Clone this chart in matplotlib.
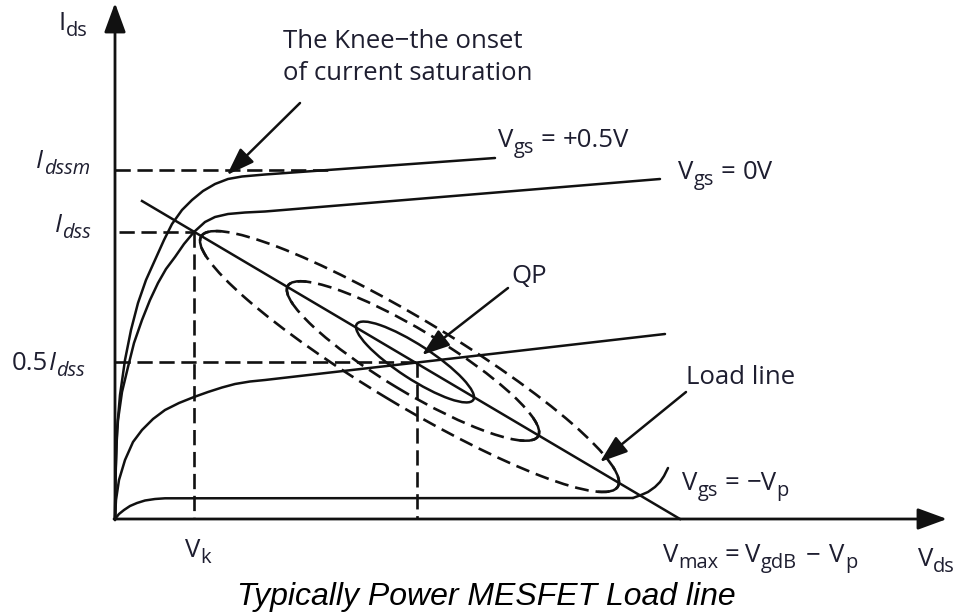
import numpy as np
import matplotlib
matplotlib.use("Agg")
import matplotlib.pyplot as plt
from matplotlib.patches import Ellipse, Arc

plt.rcParams['lines.scale_dashes'] = False
plt.rcParams['font.family'] = ['Open Sans', 'DejaVu Sans']

# ---------------- data (schematic units: Vds, Ids) ----------------
vgs_p05_v = [0, 0.5, 2, 5, 10, 16, 23, 31, 40, 49, 57, 67, 77, 88, 100, 113, 127, 150, 380]
vgs_p05_i = [0, 44, 89, 124, 159, 189, 216, 239, 259, 279, 295, 309, 319, 328, 335, 340, 342.5, 344.5, 361]

vgs_0_v = [0, 0.5, 1.5, 3, 7, 13, 19, 27, 35, 43, 51, 60, 69, 79, 90, 100, 113, 130, 150, 545]
vgs_0_i = [0, 39, 74, 99, 127, 152, 176, 199, 219, 236, 250, 262, 275, 287, 297, 302, 305, 306.5, 307.5, 340]

vgs_half_v = [0, 1, 4, 10, 18, 27, 38, 50, 64, 79, 93, 107, 120, 135, 150, 550]
vgs_half_i = [0, 19, 39, 59, 77, 89, 100, 109, 116, 122, 127, 131.5, 135, 137.5, 139, 185]

vgs_p_v = [0, 4, 9, 15, 22, 30, 40, 50, 518]
vgs_p_i = [0, 5, 9, 13, 16, 18.5, 20, 20.7, 21]

pointer_v = [518, 526, 533, 540, 545, 549, 553]
pointer_i = [21, 24, 27, 32, 37, 43, 51]

load_v = [27, 565]
load_i = [318, 0]

V_k, I_dss, I_dssm, V_qp, I_qp, V_max = 79, 287, 349, 302, 157, 565
I_dssm_end = 215

# swing loci around QP: centre V, centre I, semi-major, semi-minor, angle, cap half-angle
loop_cv = [294.5, 298, 300]
loop_ci = [157.5, 158, 157]
loop_a = [243, 146, 69.5]
loop_b = [43, 31, 17]
loop_ang = [-31, -31, -33]
loop_cap = [20, 25, None]

# ---------------- figure ----------------
fig = plt.figure(figsize=(9.56, 6.14), dpi=100)
ax = fig.add_axes([0, 0, 1, 1])
ax.set_xlim(-115, 841)
ax.set_ylim(-95, 519)
ax.axis('off')
renderer = fig.canvas.get_renderer()

LC = '#111111'
TC = '#1e1e30'
lw = 1.8
dlw = 1.9
dash = (0, (11, 4.8))

# axes with arrows
ax.annotate('', xy=(0, 516), xytext=(0, -1),
            arrowprops=dict(arrowstyle='-|>,head_length=0.9,head_width=0.33', lw=2.0,
                            color=LC, shrinkA=0, shrinkB=0, mutation_scale=20))
ax.annotate('', xy=(832, 0), xytext=(-1, 0),
            arrowprops=dict(arrowstyle='-|>,head_length=0.9,head_width=0.33', lw=2.0,
                            color=LC, shrinkA=0, shrinkB=0, mutation_scale=20))

# dashed reference lines
ax.plot([0, I_dssm_end], [I_dssm, I_dssm], color=LC, lw=dlw, ls=dash)
ax.plot([4, V_k], [I_dss, I_dss], color=LC, lw=dlw, ls=dash)
ax.plot([0, V_qp], [I_qp, I_qp], color=LC, lw=dlw, ls=dash)
ax.plot([V_k, V_k], [I_dss, 0], color=LC, lw=dlw, ls=dash)
ax.plot([V_qp, V_qp], [I_qp, 0], color=LC, lw=dlw, ls=dash)

# characteristic curves
for xs, ys in [(vgs_p05_v, vgs_p05_i), (vgs_0_v, vgs_0_i), (vgs_half_v, vgs_half_i),
               (vgs_p_v, vgs_p_i), (pointer_v, pointer_i)]:
    ax.plot(xs, ys, color=LC, lw=lw, solid_capstyle='round', solid_joinstyle='round')

# load line
ax.plot(load_v, load_i, color=LC, lw=lw)

# swing loci
for cv, ci, a, b, ang, cap in zip(loop_cv, loop_ci, loop_a, loop_b, loop_ang, loop_cap):
    if cap is None:
        ax.add_patch(Ellipse((cv, ci), 2 * a, 2 * b, angle=ang, fill=False, ec=LC, lw=lw))
    else:
        ax.add_patch(Ellipse((cv, ci), 2 * a, 2 * b, angle=ang, fill=False, ec=LC, lw=dlw,
                             ls=(0, (10, 5))))
        g = np.degrees(np.arctan(np.tan(np.radians(cap)) * b / a))
        ax.add_patch(Arc((cv, ci), 2 * a, 2 * b, angle=ang, theta1=-g, theta2=g, ec=LC, lw=lw))
        ax.add_patch(Arc((cv, ci), 2 * a, 2 * b, angle=ang, theta1=180 - g, theta2=180 + g,
                         ec=LC, lw=lw))

# pointer arrows
arr = dict(arrowstyle='-|>,head_length=0.85,head_width=0.3', lw=lw, color=LC,
           shrinkA=0, shrinkB=0, mutation_scale=20)
ax.annotate('', xy=(112, 344), xytext=(185, 416), arrowprops=arr)
ax.annotate('', xy=(307, 164), xytext=(393, 231), arrowprops=arr)
ax.annotate('', xy=(485, 57), xytext=(571, 127), arrowprops=arr)


# ---------------- text with hand-set subscripts ----------------
def rich(x, y, parts, fs=18.5, ha='left', sub_scale=0.78, sub_drop=6):
    """parts: list of (text, kind, gap_px). kind: '' normal, 's' subscript, 'i' italic."""
    cur = x
    objs = []
    for txt, kind, gap in parts:
        cur += gap
        sub = 's' in kind
        t = ax.text(cur, y - (sub_drop if sub else 0), txt,
                    fontsize=fs * sub_scale if sub else fs,
                    style='italic' if 'i' in kind else 'normal',
                    color=TC, ha='left', va='baseline')
        cur += t.get_window_extent(renderer).width
        objs.append(t)
    if ha == 'right':
        w = cur - x
        for t in objs:
            px, py = t.get_position()
            t.set_position((px - w, py))


sp = 7
rich(-57, 489, [('I', '', 0), ('ds', 's', 1)])
ax.text(168, 471, 'The Knee\u2212the onset', fontsize=18.5, color=TC, ha='left', va='baseline')
ax.text(168, 439, 'of current saturation', fontsize=18.5, color=TC, ha='left', va='baseline')
rich(383, 372, [('V', '', 0), ('gs', 's', 0), ('=', '', sp), ('+0.5V', '', sp)])
rich(563, 340, [('V', '', 0), ('gs', 's', 0), ('=', '', sp), ('0V', '', sp)])
ax.text(396, 236, 'QP', fontsize=18.5, color=TC, ha='left', va='baseline')
ax.text(571, 135, 'Load line', fontsize=18.5, color=TC, ha='left', va='baseline')
rich(567, 29, [('V', '', 0), ('gs', 's', 0), ('=', '', sp), ('\u2212V', '', sp), ('p', 's', 0)])
rich(548, -43, [('V', '', 0), ('max', 's', 0), ('=', '', 6), ('V', '', 6), ('gdB', 's', 0),
                ('\u2212', '', 9), ('V', '', 9), ('p', 's', 0)])
rich(803, -47, [('V', '', 0), ('ds', 's', 0)])
rich(70, -38, [('V', '', 0), ('k', 's', 0)])
rich(-25, 351, [('I', 'i', 0), ('dssm', 'is', 0.5)], ha='right')
rich(-24, 287, [('I', 'i', 0), ('dss', 'is', 0.5)], ha='right')
rich(-30, 149, [('0.5', '', 0), ('I', 'i', 0.5), ('dss', 'is', 0.5)], ha='right')

ax.text(371, -86, 'Typically Power MESFET Load line', fontsize=23, style='italic',
        family=['Liberation Sans', 'DejaVu Sans'], color='black', ha='center', va='baseline')

fig.savefig('out.png', dpi=100)
